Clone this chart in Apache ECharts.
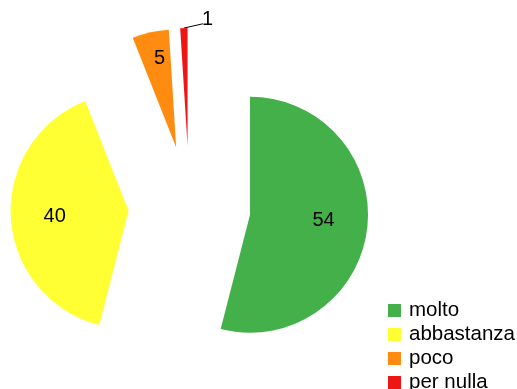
<!DOCTYPE html>
<html><head><meta charset="utf-8">
<script src="https://cdn.jsdelivr.net/npm/echarts@6/dist/echarts.min.js"></script>
<style>html,body{margin:0;padding:0;background:#fff}#c{width:517px;height:389px}</style>
</head><body><div id="c"></div>
<script>
var categories = ['molto', 'abbastanza', 'poco', 'per nulla'];
var values = [54, 40, 5, 1];
var colors = ['#43B04A', '#FFFF33', '#FF8C11', '#EE1515'];
var labelShift = [[12, -2], [-12, 2], [-3, -28], [0, 0]];

var data = categories.map(function (c, i) {
  var item = { name: c, value: values[i], selected: true, itemStyle: { color: colors[i] } };
  if (i < 3) {
    item.label = { position: 'inside' };
  } else {
    item.label = { position: 'outside' };
    item.labelLine = { show: true, length: 6, length2: 8, lineStyle: { color: '#000', width: 1 } };
  }
  return item;
});

var chart = echarts.init(document.getElementById('c'), null, { renderer: 'canvas' });
chart.setOption({
  animation: false,
  backgroundColor: '#fff',
  legend: {
    orient: 'vertical', left: 388, top: 300, height: 150, padding: 0,
    icon: 'rect', itemWidth: 13, itemHeight: 13, itemGap: 3,
    selectedMode: false,
    textStyle: { fontFamily: 'Liberation Sans', fontSize: 20.5, color: '#000', padding: [0, 0, 0, 3] },
    data: categories
  },
  series: [{
    type: 'pie',
    center: [189.5, 207],
    radius: 118,
    startAngle: 90,
    clockwise: true,
    selectedMode: 'multiple',
    selectedOffset: 61,
    avoidLabelOverlap: false,
    emphasis: { disabled: true },
    label: { show: true, formatter: '{c}', color: '#000', fontFamily: 'Liberation Sans', fontSize: 20 },
    labelLine: { show: false },
    labelLayout: function (p) {
      if (p.dataIndex === 3 && p.labelLinePoints) {
        var t = p.labelLinePoints[0];
        return {
          dx: (t[0] + 18) - p.labelRect.x,
          dy: -3,
          labelLinePoints: [[t[0], t[1]], [t[0] + 19, t[1] - 4.3]]
        };
      }
      return { dx: labelShift[p.dataIndex][0], dy: labelShift[p.dataIndex][1] };
    },
    data: data
  }]
});
</script></body></html>
